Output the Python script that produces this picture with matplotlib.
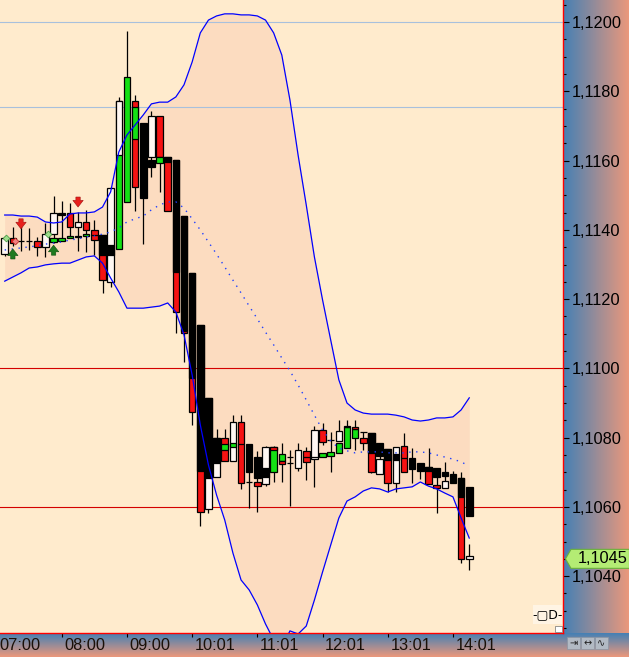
import numpy as np
import matplotlib.pyplot as plt
from matplotlib.patches import Rectangle, Polygon
from matplotlib.colors import LinearSegmentedColormap
from matplotlib.ticker import MultipleLocator, FuncFormatter
from matplotlib.transforms import IdentityTransform

plt.rcParams['font.family'] = ['Liberation Sans', 'DejaVu Sans']

nan = np.nan

# ---- candles (58 bars) ----
wick_hi = [1.11382, 1.11408, 1.11411, 1.11406, 1.11380, 1.11420, 1.11498, 1.11484, 1.11478, 1.11452,
           1.11458, 1.11429, 1.11385, 1.11524, 1.11784, 1.11974, 1.11790, 1.11709, 1.11743, 1.11729,
           1.11611, 1.11602, 1.11440, 1.11276, 1.11125, 1.10915, 1.10825, 1.10825, 1.10865, 1.10865,
           1.10782, 1.10762, 1.10776, 1.10776, 1.10785, 1.10764, 1.10785, 1.10773, 1.10834, 1.10842,
           1.10816, 1.10851, 1.10851, 1.10851, 1.10816, 1.10814, 1.10785, 1.10767, 1.10773, 1.10814,
           1.10770, 1.10727, 1.10770, 1.10712, 1.10730, 1.10704, 1.10701, 1.10493]
wick_lo = [1.11325, 1.11354, 1.11339, 1.11342, 1.11325, 1.11322, 1.11362, 1.11368, 1.11377, 1.11339,
           1.11336, 1.11328, 1.11218, 1.11235, 1.11345, 1.11481, 1.11455, 1.11359, 1.11553, 1.11510,
           1.11455, 1.11102, 1.11019, 1.10837, 1.10545, 1.10582, 1.10686, 1.10733, 1.10733, 1.10652,
           1.10597, 1.10585, 1.10660, 1.10672, 1.10672, 1.10603, 1.10704, 1.10678, 1.10658, 1.10779,
           1.10701, 1.10790, 1.10770, 1.10764, 1.10764, 1.10698, 1.10695, 1.10643, 1.10643, 1.10701,
           1.10669, 1.10681, 1.10666, 1.10582, 1.10655, 1.10669, 1.10438, 1.10418]

body_a_top = [1.11377, 1.11377, 1.11368, 1.11368, 1.11368, 1.11388, 1.11449, 1.11449, 1.11449, 1.11423,
              1.11423, 1.11400, 1.11385, 1.11521, 1.11772, 1.11842, 1.11772, 1.11709, 1.11729, 1.11729,
              1.11611, 1.11602, 1.11440, 1.11276, 1.11125, 1.10915, 1.10799, 1.10799, 1.10845, 1.10845,
              1.10782, 1.10744, 1.10773, 1.10773, 1.10753, 1.10744, 1.10764, 1.10762, 1.10822, 1.10822,
              1.10793, 1.10819, 1.10831, 1.10825, 1.10816, 1.10814, 1.10785, 1.10767, 1.10773, 1.10776,
              1.10741, 1.10727, 1.10715, 1.10712, 1.10701, 1.10695, 1.10684, 1.10658]
body_a_bot = [1.11330, 1.11362, 1.11368, 1.11368, 1.11351, 1.11351, 1.11388, 1.11443, 1.11408, 1.11408,
              1.11400, 1.11371, 1.11255, 1.11250, 1.11345, 1.11481, 1.11524, 1.11492, 1.11611, 1.11611,
              1.11455, 1.11163, 1.11102, 1.10874, 1.10585, 1.10594, 1.10686, 1.10733, 1.10733, 1.10669,
              1.10701, 1.10684, 1.10666, 1.10701, 1.10733, 1.10744, 1.10712, 1.10730, 1.10738, 1.10788,
              1.10793, 1.10790, 1.10770, 1.10799, 1.10816, 1.10701, 1.10747, 1.10669, 1.10669, 1.10701,
              1.10710, 1.10704, 1.10666, 1.10686, 1.10689, 1.10669, 1.10450, 1.10574]
body_a_col = "wrkkrwwkrw" "rrrwggrkwr" "rrrrrwwrwr" "kkwggkwrwr" "kwggkrkrwr" "kkrkkkrk"

# second (overlaid) body on the same bar
body_b_top = [nan, nan, nan, nan, nan, nan, 1.11377, 1.11377, 1.11382, 1.11382,
              1.11388, 1.11385, 1.11385, 1.11356, 1.11772, nan, 1.11755, nan, 1.11602, 1.11611,
              1.11611, 1.11602, 1.11440, 1.11276, 1.11125, 1.10915, 1.10799, 1.10782, 1.10785, 1.10782,
              1.10672, 1.10672, 1.10712, 1.10773, 1.10733, 1.10727, nan, 1.10744, 1.10744, 1.10756,
              1.10759, 1.10785, 1.10834, 1.10831, 1.10799, 1.10814, 1.10738, 1.10767, 1.10753, 1.10741,
              nan, nan, 1.10715, 1.10663, 1.10675, nan, 1.10684, 1.10458]
body_b_bot = [nan, nan, nan, nan, nan, nan, 1.11365, 1.11368, 1.11377, 1.11380,
              1.11382, 1.11385, 1.11328, 1.11328, 1.11616, nan, 1.11663, nan, 1.11582, 1.11593,
              1.11596, 1.11278, 1.11108, 1.10972, 1.10704, 1.10684, 1.10727, 1.10764, 1.10773, 1.10782,
              1.10672, 1.10660, 1.10686, 1.10764, 1.10724, 1.10727, nan, 1.10744, 1.10744, 1.10744,
              1.10747, 1.10756, 1.10831, 1.10825, 1.10785, 1.10756, 1.10695, 1.10736, 1.10736, 1.10741,
              nan, nan, 1.10704, 1.10655, 1.10655, nan, 1.10629, 1.10450]
body_b_col = "------gggk" "gkkkw-g-kg" "kkkkkkkggk" "krkrrk-kkg" "ggkrrkwkkk" "--krw-kw"

# ---- bollinger bands ----
band_hi = [1.11443, 1.11443, 1.11440, 1.11440, 1.11437, 1.11423, 1.11420, 1.11423, 1.11446, 1.11449,
           1.11449, 1.11452, 1.11466, 1.11510, 1.11625, 1.11674, 1.11703, 1.11732, 1.11764, 1.11769,
           1.11769, 1.11784, 1.11819, 1.11885, 1.11969, 1.12006, 1.12018, 1.12024, 1.12024, 1.12021,
           1.12021, 1.12018, 1.12006, 1.11969, 1.11905, 1.11775, 1.11616, 1.11472, 1.11322, 1.11198,
           1.11082, 1.10967, 1.10900, 1.10880, 1.10871, 1.10868, 1.10868, 1.10868, 1.10865, 1.10860,
           1.10851, 1.10848, 1.10851, 1.10857, 1.10857, 1.10860, 1.10880, 1.10915]
band_mid = [1.11342, 1.11345, 1.11348, 1.11351, 1.11354, 1.11359, 1.11362, 1.11365, 1.11371, 1.11374,
            1.11380, 1.11382, 1.11388, 1.11394, 1.11406, 1.11423, 1.11432, 1.11440, 1.11458, 1.11472,
            1.11481, 1.11481, 1.11463, 1.11432, 1.11400, 1.11365, 1.11330, 1.11293, 1.11255, 1.11218,
            1.11180, 1.11143, 1.11105, 1.11068, 1.11030, 1.10993, 1.10952, 1.10909, 1.10865, 1.10822,
            1.10790, 1.10770, 1.10762, 1.10756, 1.10759, 1.10759, 1.10759, 1.10756, 1.10756, 1.10756,
            1.10759, 1.10759, 1.10756, 1.10750, 1.10744, 1.10738, 1.10730, 1.10718]
band_lo = [1.11252, 1.11264, 1.11276, 1.11290, 1.11293, 1.11299, 1.11302, 1.11304, 1.11304, 1.11313,
           1.11322, 1.11325, 1.11304, 1.11261, 1.11221, 1.11174, 1.11174, 1.11174, 1.11177, 1.11180,
           1.11189, 1.11163, 1.11097, 1.10981, 1.10837, 1.10721, 1.10634, 1.10562, 1.10467, 1.10389,
           1.10360, 1.10317, 1.10262, 1.10216, 1.10193, 1.10242, 1.10233, 1.10256, 1.10331, 1.10412,
           1.10490, 1.10568, 1.10617, 1.10629, 1.10646, 1.10655, 1.10652, 1.10643, 1.10652, 1.10655,
           1.10658, 1.10672, 1.10660, 1.10652, 1.10640, 1.10629, 1.10568, 1.10510]

# ---- signals ----
sell_bar = [2, 9]
sell_tip = [1.11403, 1.11466]
sell_tail = [1.11432, 1.11495]
buy_bar = [1, 6]
buy_tip = [1.11345, 1.11356]
buy_tail = [1.11316, 1.11327]
dot_x = [0.22, 5.31]
dot_y = [1.11377, 1.11388]
dot_red_x = [1.26]
dot_red_y = [1.11368]

levels_red = [1.1100, 1.1060]
levels_blue = [1.1200, 1.11755]
last_price = 1.1045

time_pos = [-1, 7, 15, 23, 31, 39, 47, 55]
time_lbl = ["07:00", "08:00", "09:00", "10:01", "11:01", "12:01", "13:01", "14:01"]

# ---- layout ----
W, H, DPI = 629, 657, 100
PR, PB = 563, 633        # plot right / bottom in pixels
fig = plt.figure(figsize=(W / DPI, H / DPI), dpi=DPI)

cmap = LinearSegmentedColormap.from_list('axgrad', [(70/255, 128/255, 180/255), (234/255, 152/255, 124/255)])
ax_r = fig.add_axes([PR / W, 0, 1 - PR / W, 1])
ax_r.imshow(np.linspace(0, 1, 64)[None, :], aspect='auto', cmap=cmap)
ax_r.axis('off')
ax_b = fig.add_axes([0, 0, 1, (H - PB) / H])
ax_b.imshow(np.linspace(0, 1, 32)[:, None], aspect='auto', cmap=cmap)
ax_b.axis('off')

ax = fig.add_axes([0, 1 - PB / H, PR / W, PB / H])
ax.set_zorder(2)
ax.set_facecolor('#FFEBCD')

cols = {'k': '#000000', 'w': '#FFF7F2', 'r': '#F51212', 'g': '#14E014'}
x = np.arange(len(wick_hi))
bw = 0.8

ax.fill_between(x, band_lo, band_hi, color='#FCDCC0', lw=0, zorder=1)
for lv in levels_red:
    ax.axhline(lv, color='#D40000', lw=0.8, zorder=1.5)
for lv in levels_blue:
    ax.axhline(lv, color='#A8C0DC', lw=0.8, zorder=1.5)

for i in x:
    ax.vlines(i, wick_lo[i], wick_hi[i], color='black', lw=0.9, zorder=3)
    lo, hi = sorted([body_a_top[i], body_a_bot[i]])
    ax.add_patch(Rectangle((i - bw / 2, lo), bw, hi - lo, fc=cols[body_a_col[i]],
                           ec='black', lw=0.9, zorder=4))
    if body_b_col[i] != '-':
        lo, hi = sorted([body_b_top[i], body_b_bot[i]])
        ax.add_patch(Rectangle((i - bw / 2, lo), bw, hi - lo, fc=cols[body_b_col[i]],
                               ec='black', lw=0.9, zorder=5))

ax.plot(x, band_hi, color='#0000FF', lw=0.9, zorder=6)
ax.plot(x, band_lo, color='#0000FF', lw=0.9, zorder=6)
ax.plot(x, band_mid, color='#2040FF', lw=1.0, ls=(0, (1, 4)), zorder=6)

ax.plot(dot_x, dot_y, 'D', ms=3.5, mfc='#9EDC8C', mec='#3C963C', mew=0.5, zorder=7)
ax.plot(dot_red_x, dot_red_y, 'D', ms=3.5, mfc='#F08080', mec='#C02020', mew=0.5, zorder=7)

arrow = 'simple,head_length=0.4,head_width=0.62,tail_width=0.26'
for b, t, tl in zip(sell_bar, sell_tip, sell_tail):
    ax.annotate('', xy=(b, t), xytext=(b, tl), zorder=7,
                arrowprops=dict(arrowstyle=arrow, mutation_scale=12, fc='#E8201C', ec='#A01010',
                                lw=0.4, shrinkA=0, shrinkB=0))
for b, t, tl in zip(buy_bar, buy_tip, buy_tail):
    ax.annotate('', xy=(b, t), xytext=(b, tl), zorder=7,
                arrowprops=dict(arrowstyle=arrow, mutation_scale=12, fc='#1F7A1F', ec='#0E4E0E',
                                lw=0.4, shrinkA=0, shrinkB=0))

ax.set_xlim(-4.7 / 8.15, (PR - 4.7) / 8.15)
ax.set_ylim(1.12064 - PB / 34625, 1.12064)

for s in ['left', 'top']:
    ax.spines[s].set_visible(False)
for s in ['right', 'bottom']:
    ax.spines[s].set_color('#FF0000')
    ax.spines[s].set_linewidth(1.0)

ax.yaxis.tick_right()
ax.yaxis.set_major_locator(MultipleLocator(0.002))
ax.yaxis.set_minor_locator(MultipleLocator(0.0005))
ax.yaxis.set_major_formatter(FuncFormatter(lambda v, _: f"{v:.4f}".replace('.', ',')))
ax.tick_params(axis='y', which='major', direction='out', length=4, width=0.8, pad=2.5,
               labelsize=11.8, colors='black')
ax.tick_params(axis='y', which='minor', direction='out', length=2.5, width=0.8, colors='black')

ax.set_xticks(time_pos[1:])
ax.set_xticklabels([])
ax.tick_params(axis='x', direction='out', length=3, width=0.8, colors='black')
for p, lbl in zip(time_pos, time_lbl):
    ax.annotate(lbl, xy=(p, 0), xycoords=('data', 'axes fraction'), xytext=(2.5, -13),
                textcoords='offset pixels', ha='left', va='center', fontsize=11.8,
                color='#1A1008', annotation_clip=False)

# current price tag
yd = ax.transData.transform((0, last_price))[1]
tag = Polygon([(565.5, yd), (571, yd + 9.5), (629.5, yd + 9.5), (629.5, yd - 9.5), (571, yd - 9.5)],
              closed=True, fc='#B4EC74', ec='#6AB03A', lw=0.8, transform=IdentityTransform(), zorder=5)
fig.add_artist(tag)
fig.text(578 / W, yd / H, f"{last_price:.4f}".replace('.', ','), ha='left', va='center',
         fontsize=11.8, color='black', zorder=6)

# small toolbar icons
def fbox(x0, y0, w, h, **kw):
    return Rectangle((x0 / W, 1 - (y0 + h) / H), w / W, h / H, transform=fig.transFigure, **kw)

fig.add_artist(fbox(533, 605, 29, 19, fc='#FFF4E4', ec='none', zorder=5))
fig.text(547.5 / W, 1 - 614.5 / H, "-\u25a2D-", ha='center', va='center', fontsize=9,
         family='DejaVu Sans', zorder=6)
fig.add_artist(fbox(555, 626, 7, 6, fc='white', ec='#707070', lw=0.5, zorder=5))
for k, sym in enumerate(["\u21e5", "\u2194", "\u223f"]):
    fig.add_artist(fbox(567 + 14 * k, 637, 13, 12, fc='#B2BAC4', ec='#8C95A2', lw=0.5, zorder=5))
    fig.text((573.5 + 14 * k) / W, 1 - 643 / H, sym, ha='center', va='center', fontsize=7,
             family='DejaVu Sans', color='#202020', zorder=6)

fig.savefig('out.png', dpi=DPI)
